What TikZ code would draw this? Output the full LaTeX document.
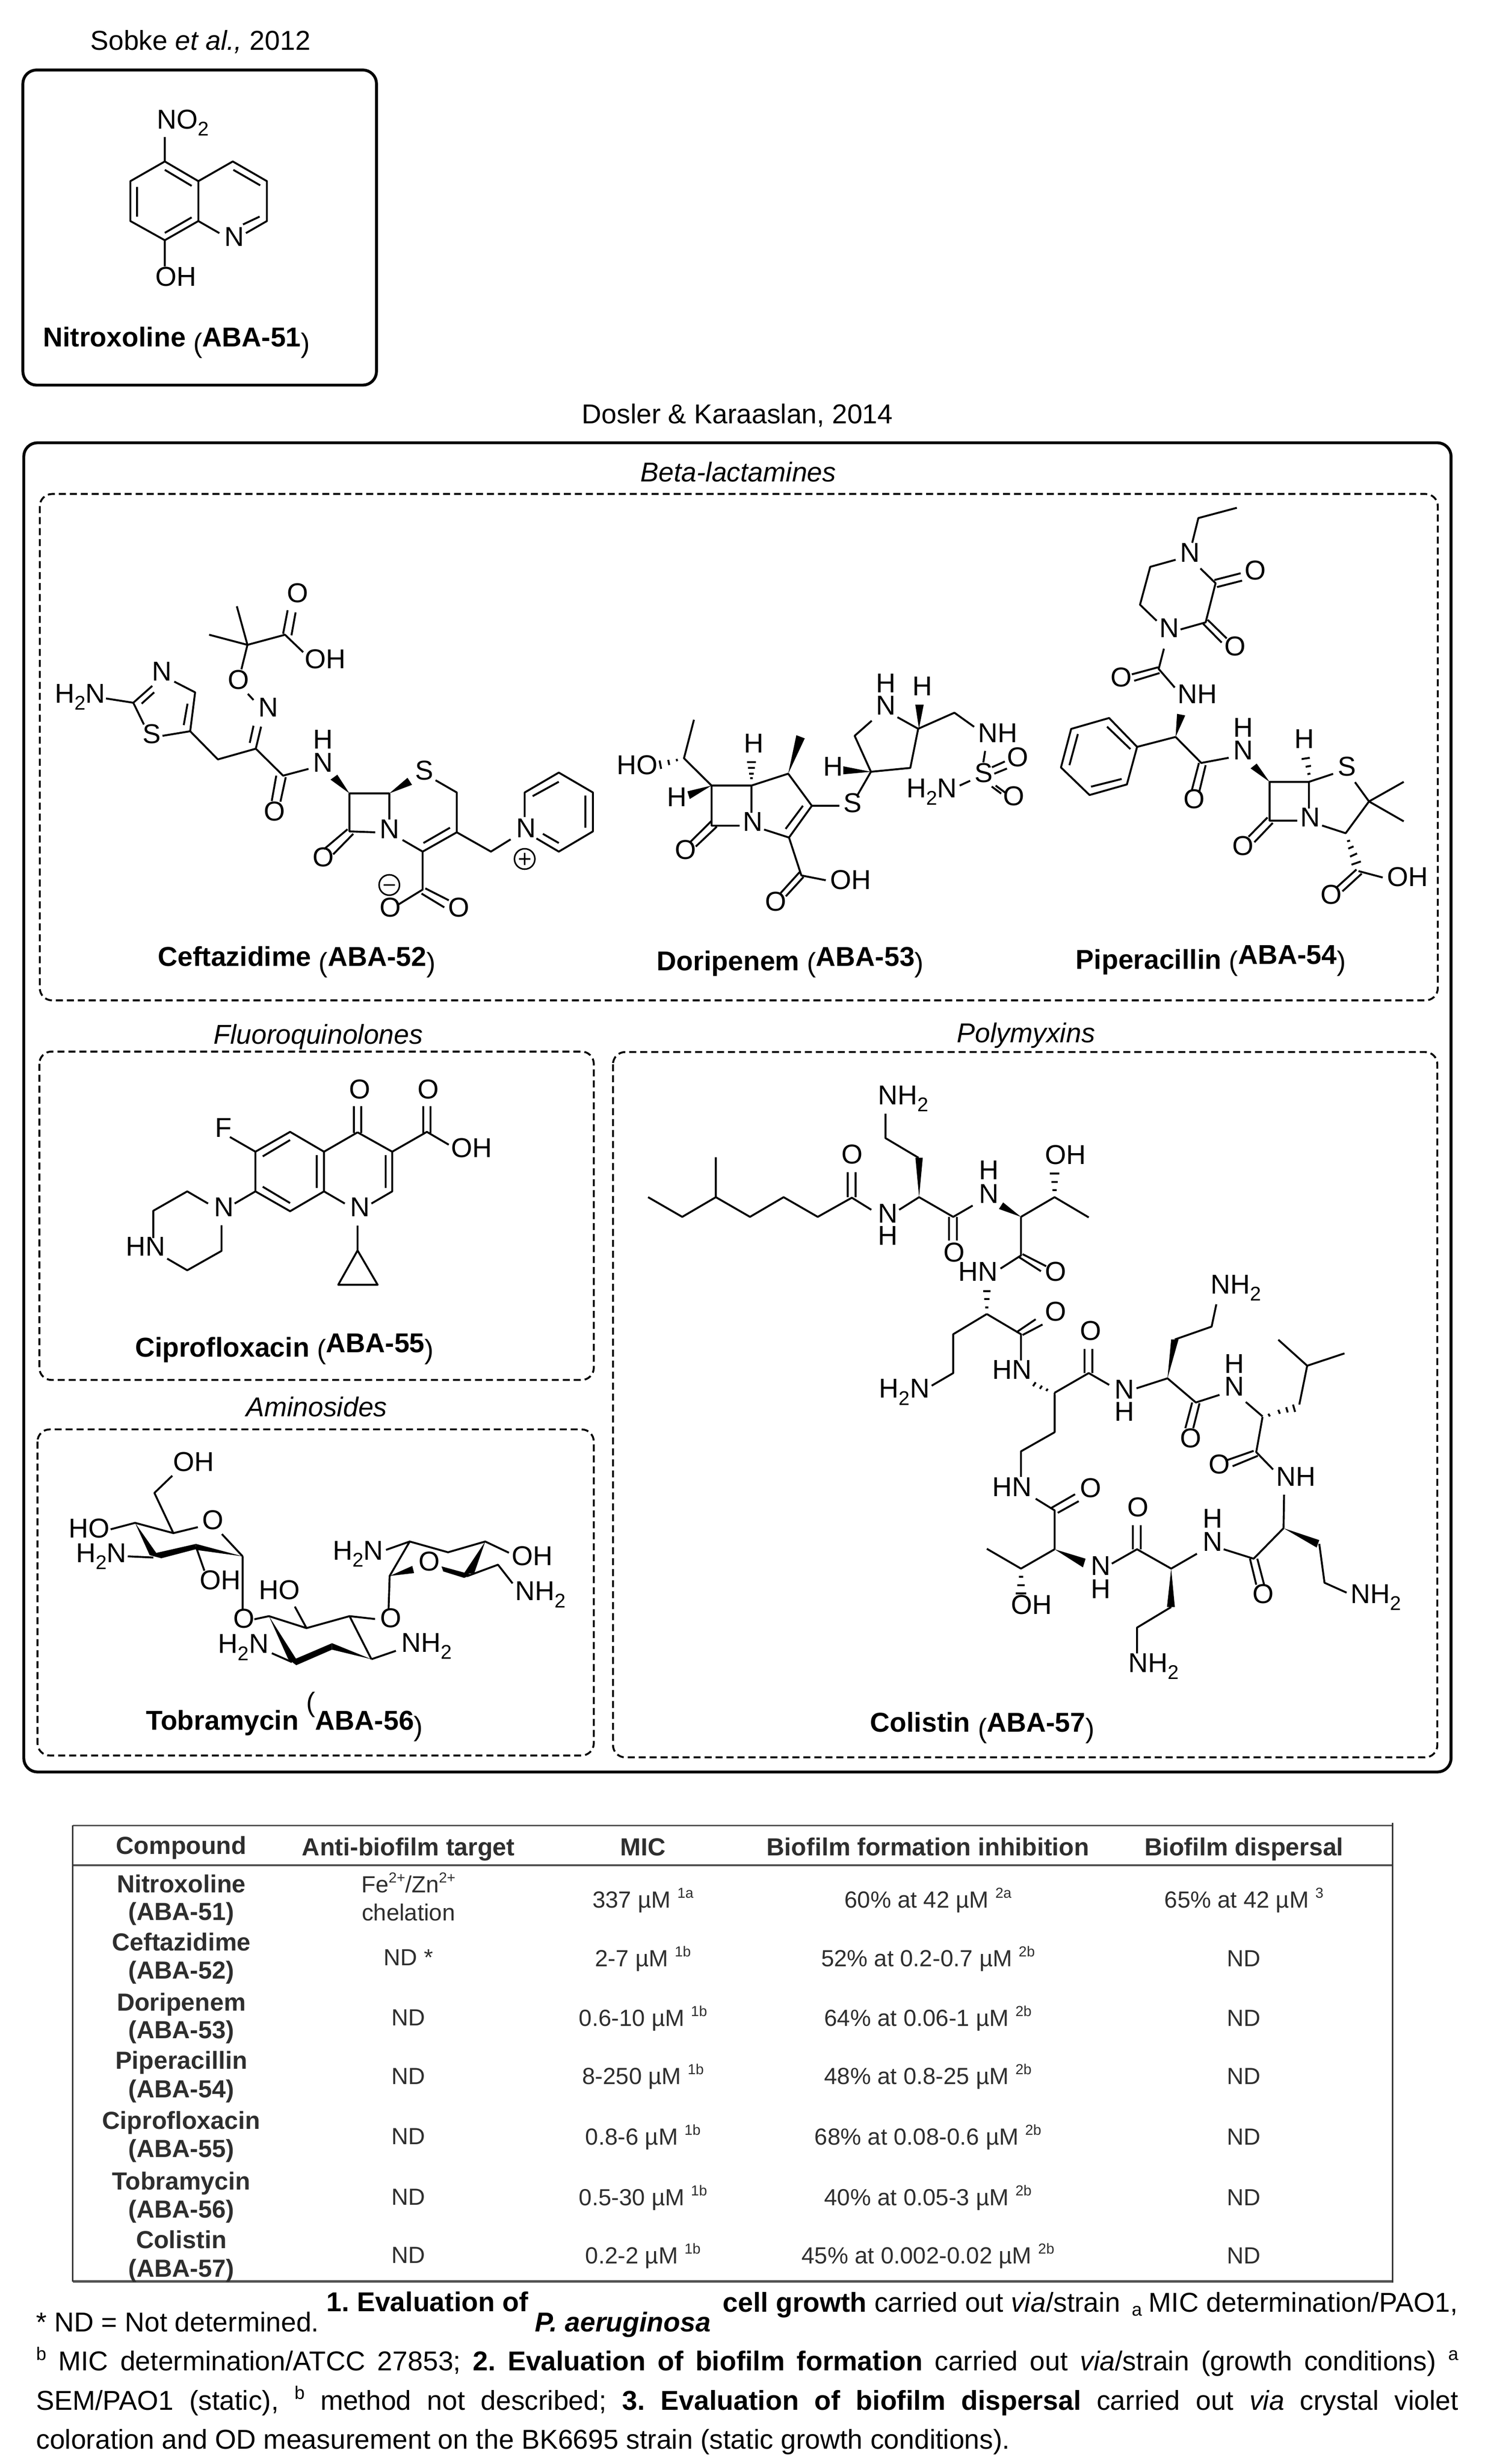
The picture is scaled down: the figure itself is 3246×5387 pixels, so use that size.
\documentclass[tikz,border=0pt]{standalone}
\usepackage{fontspec}
\setmainfont{Liberation Sans}
\newcounter{lc}
\newcommand\sbs[1]{\raisebox{-4.6pt}{\fontsize{13}{13}\selectfont #1}}
\newcommand\sps[1]{\raisebox{6.5pt}{\fontsize{9.5}{10}\selectfont #1}}
\newcommand\fsp[1]{\raisebox{7pt}{\fontsize{12}{12}\selectfont #1}}
\tikzset{
  zm/.style n args={4}{shift={(#1,#2)},x=#3pt,y=-#4pt},
  lbl/.style={anchor=base west,inner sep=0pt,outer sep=0pt,font=\fontsize{17.9}{20}\selectfont\frenchspacing},
  tbc/.style={anchor=base,inner sep=0pt,outer sep=0pt,text=black!82,font=\fontsize{15.3}{18}\selectfont},
  tbh/.style={tbc,font=\fontsize{16.2}{18}\selectfont\bfseries},
  bond/.style={line width=1.25pt,line join=round},
  sbox/.style={line width=1.9pt,rounded corners=9pt},
  dbox/.style={line width=1.25pt,dash pattern=on 4.6pt off 2.6pt,rounded corners=8pt},
  trule/.style={draw=black!68}
}
\def\lab(#1,#2)#3{\stepcounter{lc}\node[lbl] (L\arabic{lc}) at (#1,#2) {#3};}
\def\tc(#1,#2)#3{\stepcounter{lc}\node[tbc] (L\arabic{lc}) at (#1,#2) {#3};}
\def\th(#1,#2)#3{\stepcounter{lc}\node[tbh] (L\arabic{lc}) at (#1,#2) {#3};}
\def\cpd(#1,#2)#3#4#5#6#7{\stepcounter{lc}\node[lbl] (L\arabic{lc}) at (#1,#2) {\textbf{#3 }\raisebox{#5}{(}\raisebox{#6}{\textbf{ABA-#4}}\raisebox{#7}{)}};}
\def\wdg(#1)(#2)(#3){\fill (#1)--(#2)--(#3)--cycle;}
\begin{document}
\begin{tikzpicture}[x=0.3pt,y=-0.3pt]
\path[use as bounding box,fill=white] (0,0) rectangle (3246,5387);
% frames
\draw[sbox] (50,153) rectangle (823,842);
\draw[sbox] (52,968) rectangle (3172,3874);
\draw[dbox] (87,1080) rectangle (3143,2187);
\draw[dbox] (86,2299) rectangle (1298,3017);
\draw[dbox] (82,3125) rectangle (1298,3838);
\draw[dbox] (1340,2300) rectangle (3142,3842);
\lab(1272,926){Dosler \& Karaaslan, 2014}
\lab(1400,1053){\textit{Beta-lactamines}}
\lab(467,2282){\textit{Fluoroquinolones}}
\lab(538,3097){\textit{Aminosides}}
\lab(2092,2279){\textit{Polymyxins}}
% ---------- Nitroxoline
\begin{scope}[zm={0}{0}{0.1913}{0.1722}]
\lab(310,190){Sobke \textit{et al.,} 2012}
\draw[bond] (565,615)--(680,690)--(680,842)--(565,915)--(447,842)--(447,690)--cycle
 (680,690)--(798,615)--(915,690)--(915,842)--(843,888) (680,842)--(752,888)
 (565,647)--(657,708) (470,712)--(470,825) (565,887)--(657,828) (800,647)--(892,706) (833,855)--(890,825)
 (565,615)--(565,522) (565,915)--(565,1015);
\lab(538,490){NO\sbs{2}}
\lab(533,1090){OH}
\lab(770,938){N}
\cpd(148,1320){Nitroxoline}{51}{-4pt}{0pt}{-4pt}
\end{scope}
% ---------- Ceftazidime
\begin{scope}[zm={80}{1150}{0.2487}{0.2009}]
\draw[bond] (183,563)--(255,577) (255,577)--(305,522) (277,580)--(310,543) (363,508)--(418,543)--(405,670)--(332,685)
 (398,580)--(388,650) (255,577)--(283,648)
 (405,670)--(478,762)--(578,727)--(650,815)--(717,793) (578,727)--(592,655) (562,708)--(572,652)
 (572,568)--(557,548) (540,468)--(556,388)--(528,262) (556,388)--(455,355) (556,388)--(655,355)--(703,412)
 (650,352)--(662,275) (672,357)--(683,282)
 (632,815)--(620,898) (657,820)--(643,900)
 (930,958)--(930,873)--(825,873)--(825,997)--(893,1000)
 (820,990)--(758,1055) (835,1005)--(782,1072)
 (1052,830)--(1108,870)--(1108,1000)--(1018,1063)--(965,1025) (1020,1035)--(1090,985)
 (1108,1000)--(1198,1063)--(1250,1023) (1018,1063)--(1018,1187)--(955,1235)
 (1025,1183)--(1087,1222) (1015,1200)--(1075,1245)
 (1287,950)--(1287,870)--(1377,805)--(1467,870)--(1467,997)--(1377,1063)--(1318,1020)
 (1308,882)--(1377,835) (1447,880)--(1447,985) (1335,1005)--(1377,1035);
\wdg(825,873)(775,828)(793,812)
\wdg(930,873)(978,822)(990,845)
\draw[bond,line width=1pt] (930,1172) circle[radius=6.7pt] (915,1172)--(945,1172);
\draw[bond,line width=1pt] (1287,1087) circle[radius=6.7pt] (1272,1087)--(1302,1087) (1287,1067)--(1287,1107);
\lab(48,578){H\sbs{2}N}
\lab(305,505){N}
\lab(280,710){S}
\lab(505,533){O}
\lab(585,622){N}
\lab(660,250){O}
\lab(707,465){OH}
\lab(730,728){H}
\lab(730,803){N}
\lab(600,962){O}
\lab(998,828){S}
\lab(905,1020){N}
\lab(728,1112){O}
\lab(905,1276){O}
\lab(1085,1276){O}
\lab(1265,1017){N}
\cpd(320,1437){Ceftazidime}{52}{-4pt}{0pt}{-4pt}
\end{scope}
% ---------- Doripenem
\begin{scope}[zm={1300}{1100}{0.1722}{0.2105}]
\draw[bond] (378,675)--(340,795)--(445,880)--(597,880)--(597,965) (445,880)--(445,1005)--(552,1005)
 (445,990)--(365,1055) (465,1008)--(385,1070)
 (312,797)--(314,804) (280,800)--(284,816) (247,802)--(253,828)
 (592,857)--(602,857) (588,843)--(606,843) (584,825)--(610,825) (580,807)--(614,807)
 (597,880)--(737,843)--(827,943)--(740,1042)--(645,1017) (793,943)--(727,1015)
 (827,943)--(932,943) (740,1042)--(787,1160)--(880,1175) (780,1150)--(708,1215) (795,1165)--(728,1225)
 (1002,908)--(1052,837)--(990,725)--(1055,678) (1052,837)--(1202,825)--(1232,703)--(1153,667)
 (1232,703)--(1370,653)--(1445,697) (1487,772)--(1480,808) (1430,865)--(1390,880)
 (1513,823)--(1562,805) (1522,843)--(1570,827) (1512,883)--(1548,905) (1527,880)--(1565,903);
\wdg(445,880)(353,898)(362,922)
\wdg(737,843)(768,723)(800,733)
\wdg(1052,837)(947,820)(947,845)
\wdg(1235,703)(1221,628)(1253,628)
\lab(85,845){HO}
\lab(275,945){H}
\lab(568,777){H}
\lab(565,1022){N}
\lab(305,1110){O}
\lab(650,1270){O}
\lab(897,1203){OH}
\lab(947,963){S}
\lab(870,850){H}
\lab(1072,590){H}
\lab(1072,660){N}
\lab(1210,600){H}
\lab(1460,745){NH}
\lab(1188,918){H\sbs{2}N}
\lab(1447,870){S}
\lab(1570,821){O}
\lab(1555,942){O}
\cpd(237,1457){Doripenem}{53}{-1pt}{3pt}{-1pt}
\end{scope}
% ---------- Piperacillin
\begin{scope}[zm={2200}{1080}{0.1913}{0.2105}]
\draw[bond] (790,43)--(658,75)--(637,152) (580,205)--(493,227)--(458,345)--(515,395)
 (665,232)--(717,278)--(683,400)--(597,422)
 (713,268)--(803,247) (722,290)--(808,270) (690,392)--(755,450) (675,405)--(738,463)
 (540,482)--(522,545)--(577,603) (520,540)--(430,562) (525,558)--(438,582)
 (580,757)--(448,788)--(352,698)--(222,732)--(187,852)--(285,938)--(413,905)--(448,788)
 (425,795)--(345,725) (245,748)--(216,845) (290,912)--(395,888)
 (580,757)--(668,838)--(762,822) (660,838)--(635,925) (683,845)--(660,932)
 (1037,980)--(1037,897)--(902,897)--(902,1018)--(997,1018)
 (895,1008)--(830,1068) (913,1025)--(850,1085)
 (1032,873)--(1042,871) (1026,850)--(1044,847) (1012,826)--(1040,822)
 (1037,897)--(1120,872) (1195,898)--(1243,958)--(1163,1057)--(1082,1033)
 (1243,958)--(1362,897) (1243,958)--(1362,1020)
 (1168,1082)--(1178,1080) (1172,1105)--(1190,1098) (1178,1130)--(1202,1120) (1183,1155)--(1215,1145)
 (1207,1175)--(1290,1195) (1200,1170)--(1133,1225) (1218,1183)--(1152,1238);
\wdg(580,757)(585,685)(613,690)
\wdg(902,897)(837,855)(858,840)
\lab(595,212){N}
\lab(817,268){O}
\lab(525,447){N}
\lab(748,503){O}
\lab(358,600){O}
\lab(587,653){NH}
\lab(778,757){H}
\lab(778,828){N}
\lab(608,980){O}
\lab(988,793){H}
\lab(1137,878){S}
\lab(1008,1037){N}
\lab(775,1125){O}
\lab(1078,1278){O}
\lab(1305,1223){OH}
\cpd(238,1480){Piperacillin}{54}{-1pt}{3pt}{-1pt}
\end{scope}
% ---------- Ciprofloxacin
\begin{scope}[zm={80}{2250}{0.2392}{0.1531}]
\draw[bond] (870,330)--(870,445) (890,330)--(890,445)
 (880,442)--(788,525)--(788,695)--(695,780)--(600,695)--(600,525)--(695,440)--(788,525)
 (880,442)--(975,525)--(975,695)--(918,747) (788,695)--(845,747)
 (768,540)--(768,680) (620,545)--(695,475) (620,675)--(695,745) (957,540)--(957,680)
 (975,525)--(1070,440)--(1130,495) (1060,330)--(1060,445) (1080,330)--(1080,445)
 (530,462)--(600,525) (543,747)--(600,695)
 (470,747)--(413,695)--(320,778)--(320,895) (507,840)--(507,950)--(413,1033)--(358,983)
 (880,842)--(880,948)--(827,1095)--(935,1095)--(880,948);
\lab(857,297){O}
\lab(1045,297){O}
\lab(490,462){F}
\lab(1137,550){OH}
\lab(487,803){N}
\lab(860,803){N}
\lab(245,972){HN}
\cpd(270,1405){Ciprofloxacin}{55}{-1pt}{3pt}{-1pt}
\end{scope}
% ---------- Tobramycin
\begin{scope}[zm={80}{3060}{0.2392}{0.1569}]
\draw[bond] (372,318)--(323,390)--(375,558)--(270,515)--(203,542) (375,558)--(442,533) (508,562)--(565,655)
 (437,615)--(460,715) (250,655)--(320,660) (565,655)--(565,875)
 (597,918)--(637,905)--(740,955)--(858,905)--(928,917) (740,955)--(708,865) (858,905)--(918,1085)
 (645,1060)--(700,1097) (918,1085)--(985,1050)
 (958,628)--(1023,593)--(1128,638)--(1230,593)--(1295,640) (1023,593)--(968,737)--(965,875)
 (1180,738)--(1265,690)--(1305,768);
\fill (270,515)--(310,650)--(330,645)--cycle;
\fill (310,650)--(342,663)--(437,625)--(437,603)--(330,640)--cycle;
\fill (437,603)--(437,628)--(565,655)--cycle;
\fill (637,905)--(690,1085)--(712,1085)--cycle;
\fill (690,1085)--(712,1110)--(810,1045)--(810,1018)--(712,1082)--cycle;
\fill (810,1018)--(810,1045)--(918,1085)--cycle;
\fill (968,737)--(1030,695)--(1035,725)--cycle;
\fill (1110,697)--(1115,718)--(1172,745)--(1195,732)--(1170,722)--cycle;
\fill (1230,593)--(1170,730)--(1200,725)--cycle;
\lab(375,300){OH}
\lab(455,543){O}
\lab(88,578){HO}
\lab(108,680){H\sbs{2}N}
\lab(448,793){OH}
\lab(610,835){HO}
\lab(540,955){O}
\lab(498,1060){H\sbs{2}N}
\lab(1000,1055){NH\sbs{2}}
\lab(942,952){O}
\lab(812,670){H\sbs{2}N}
\lab(1048,715){O}
\lab(1303,693){OH}
\lab(1312,840){NH\sbs{2}}
\cpd(300,1380){Tobramycin}{56}{12pt}{0pt}{-4pt}
\end{scope}
% ---------- Colistin upper
\begin{scope}[zm={1380}{2250}{0.3444}{0.1722}]
\draw[bond] (32,640)--(97,715)--(161,640)--(226,715)--(290,640)--(355,715)--(420,642)--(457,688)
 (161,640)--(161,488) (412,640)--(412,545) (427,640)--(427,545)
 (510,688)--(548,640)--(613,715)--(650,672) (547,490)--(484,415)--(484,322)
 (605,715)--(605,805) (620,715)--(620,805)
 (742,715)--(806,640)--(871,717) (802,613)--(810,613) (800,582)--(812,582) (797,550)--(815,550)
 (742,715)--(742,862)--(703,912) (745,857)--(790,903) (738,868)--(780,922)
 (674,1060)--(680,1060) (672,1028)--(682,1028) (670,998)--(684,998)
 (677,1085)--(613,1162)--(613,1310)--(572,1358) (677,1085)--(742,1162)--(742,1262)
 (733,1155)--(770,1105) (745,1165)--(783,1125)
 (770,1345)--(765,1360) (782,1358)--(778,1370) (793,1370)--(790,1378)
 (806,1385)--(871,1310)--(910,1355) (863,1310)--(863,1218) (878,1310)--(878,1218)
 (806,1385)--(806,1535)
 (962,1368)--(1021,1330)--(1075,1422)--(1120,1393) (1035,1182)--(1105,1133)--(1114,1048)
 (1068,1422)--(1055,1520) (1082,1425)--(1070,1520)
 (1170,1420)--(1202,1475)
 (1213,1465)--(1216,1475) (1232,1450)--(1235,1465) (1247,1440)--(1250,1460) (1260,1430)--(1264,1458)
 (1272,1430)--(1287,1282)--(1232,1183) (1287,1282)--(1358,1235);
\wdg(548,640)(541,490)(555,490)
\wdg(742,715)(700,685)(708,660)
\wdg(1021,1330)(1028,1182)(1042,1182)
\lab(470,287){NH\sbs{2}}
\lab(400,513){O}
\lab(662,573){H}
\lab(662,663){N}
\lab(788,515){OH}
\lab(470,738){N}
\lab(470,822){H}
\lab(595,887){O}
\lab(623,960){HN}
\lab(788,960){O}
\lab(1103,1008){NH\sbs{2}}
\lab(788,1112){O}
\lab(855,1185){O}
\lab(472,1405){H\sbs{2}N}
\lab(688,1333){HN}
\lab(1130,1310){H}
\lab(1130,1397){N}
\lab(920,1408){N}
\lab(920,1492){H}
\end{scope}
% ---------- Colistin lower
\begin{scope}[zm={1380}{3050}{0.3444}{0.1626}]
\draw[bond] (806,0)--(806,150)--(742,227)--(742,330) (1202,88)--(1190,230)--(1222,300)
 (1185,225)--(1135,262) (1193,245)--(1145,287)
 (1243,402)--(1242,537) (770,418)--(806,465)--(806,622)
 (800,455)--(845,400) (812,475)--(852,428)
 (806,622)--(742,700)--(677,620) (738,733)--(746,733) (735,767)--(749,767) (732,800)--(752,800)
 (915,680)--(963,622)--(1028,700)--(1077,640) (955,622)--(955,525) (970,622)--(970,525)
 (1028,855)--(963,938)--(963,1042)
 (1128,622)--(1185,660)--(1242,537) (1178,660)--(1190,765) (1192,660)--(1205,765)
 (1310,600)--(1320,757)--(1362,797);
\wdg(806,622)(860,695)(865,660)
\wdg(1028,700)(1020,855)(1035,855)
\wdg(1242,537)(1310,585)(1305,615)
\lab(1045,212){O}
\lab(1100,317){O}
\lab(1228,367){NH}
\lab(688,408){HN}
\lab(855,412){O}
\lab(945,490){O}
\lab(1088,535){H}
\lab(1088,630){N}
\lab(875,727){N}
\lab(875,820){H}
\lab(1183,840){O}
\lab(723,883){OH}
\lab(947,1118){NH\sbs{2}}
\lab(1370,840){NH\sbs{2}}
\cpd(455,1358){Colistin}{57}{-4pt}{0pt}{-4pt}
\end{scope}
% ---------- Table
\draw[trule,line width=1.1pt] (159,3991)--(3044,3991);
\draw[trule,line width=1.3pt] (159,4078)--(3044,4078);
\draw[trule,line width=1.7pt] (159,4988)--(3044,4988);
\draw[black!80,line width=0.9pt] (159,3991)--(159,4988);
\draw[black!80,line width=0.9pt] (3044,3985)--(3044,4990);
\begin{scope}[zm={140}{3980}{0.2870}{0.2009}]
\th(268,110){Compound}
\th(787,115){Anti-biofilm target}
\th(1323,115){MIC}
\th(268,235){Nitroxoline}   \th(268,325){(ABA-51)}
\th(268,425){Ceftazidime}   \th(268,517){(ABA-52)}
\th(268,622){Doripenem}     \th(268,712){(ABA-53)}
\th(268,812){Piperacillin}  \th(268,905){(ABA-54)}
\th(268,1008){Ciprofloxacin}\th(268,1100){(ABA-55)}
\th(268,1205){Tobramycin}   \th(268,1297){(ABA-56)}
\th(268,1397){Colistin}     \th(268,1490){(ABA-57)}
\tc(787,235){Fe\sps{2+}/Zn\sps{2+}}
\tc(787,327){chelation}
\tc(787,473){ND *}
\tc(787,670){ND}
\tc(787,862){ND}
\tc(787,1058){ND}
\tc(787,1255){ND}
\tc(787,1445){ND}
\tc(1323,285){337 µM \sps{1a}}
\tc(1323,477){2-7 µM \sps{1b}}
\tc(1323,672){0.6-10 µM \sps{1b}}
\tc(1323,862){8-250 µM \sps{1b}}
\tc(1323,1060){0.8-6 µM \sps{1b}}
\tc(1323,1257){0.5-30 µM \sps{1b}}
\tc(1323,1447){0.2-2 µM \sps{1b}}
\end{scope}
\begin{scope}[zm={1600}{3980}{0.3061}{0.2009}]
\th(420,115){Biofilm formation inhibition}
\th(1097,115){Biofilm dispersal}
\tc(420,285){60\% at 42 µM \sps{2a}}
\tc(420,477){52\% at 0.2-0.7 µM \sps{2b}}
\tc(420,672){64\% at 0.06-1 µM \sps{2b}}
\tc(420,862){48\% at 0.8-25 µM \sps{2b}}
\tc(420,1060){68\% at 0.08-0.6 µM \sps{2b}}
\tc(420,1257){40\% at 0.05-3 µM \sps{2b}}
\tc(420,1447){45\% at 0.002-0.02 µM \sps{2b}}
\tc(1097,285){65\% at 42 µM \sps{3}}
\tc(1097,477){ND}
\tc(1097,672){ND}
\tc(1097,862){ND}
\tc(1097,1060){ND}
\tc(1097,1257){ND}
\tc(1097,1447){ND}
\end{scope}
% ---------- Footnote
\lab(79,5098){* ND = Not determined.}
\lab(714,5053){\textbf{1. Evaluation of}}
\lab(1170,5098){\textbf{\textit{P. aeruginosa}}}
\lab(1580,5055){\textbf{cell growth} carried out \textit{via}/strain}
\lab(2474,5063){\fontsize{12}{12}\selectfont a}
\lab(2511,5055){MIC determination/PAO1,}
\lab(79,5183){\makebox[932.7pt][s]{\fsp{b} MIC determination/ATCC 27853; \textbf{2. Evaluation of biofilm formation} carried out \textit{via}/strain (growth conditions) \fsp{a}}}
\lab(79,5269){\makebox[932.7pt][s]{SEM/PAO1 (static), \fsp{b} method not described; \textbf{3. Evaluation of biofilm dispersal} carried out \textit{via} crystal violet}}
\lab(79,5354){coloration and OD measurement on the BK6695 strain (static growth conditions).}
\end{tikzpicture}
\end{document}
